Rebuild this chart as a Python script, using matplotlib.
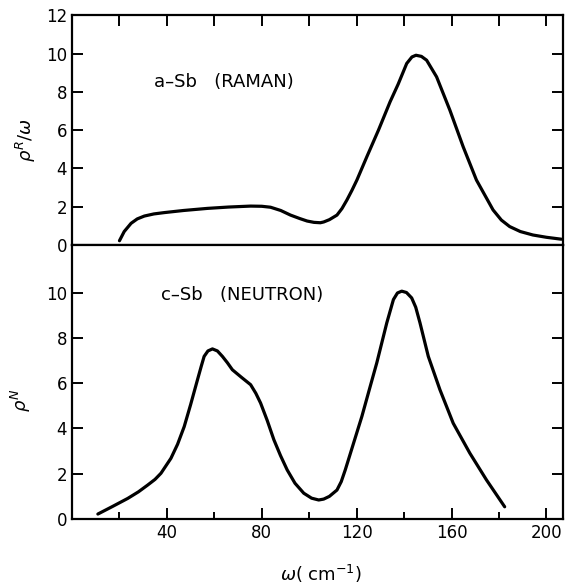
import matplotlib
matplotlib.use("Agg")
import matplotlib.pyplot as plt
from matplotlib.ticker import MultipleLocator

# a-Sb Raman spectrum (rho^R / omega)
raman_w = [20.0, 22.0, 24.9, 27.5, 30.5, 34.5, 38.9, 47.0, 57.1, 66.0, 75.3, 80.0,
           83.7, 88.0, 92.1, 96.0, 99.1, 102.0, 104.7, 106.1, 108.5, 111.7, 113.8,
           115.9, 118.0, 120.1, 124.3, 129.2, 134.1, 137.5, 141.1, 143.3, 145.0,
           147.3, 149.5, 153.7, 159.3, 164.9, 170.5, 177.5, 181.0, 184.5, 189.0,
           194.3, 200.0, 206.3]
raman_rho = [0.22, 0.7, 1.13, 1.36, 1.51, 1.62, 1.69, 1.8, 1.91, 1.98, 2.03, 2.02,
             1.97, 1.8, 1.56, 1.38, 1.25, 1.18, 1.16, 1.2, 1.32, 1.56, 1.9,
             2.35, 2.85, 3.39, 4.61, 6.0, 7.48, 8.4, 9.48, 9.82, 9.91,
             9.85, 9.65, 8.78, 7.04, 5.13, 3.39, 1.83, 1.3, 0.96, 0.7,
             0.52, 0.4, 0.3]

# c-Sb neutron density of states (rho^N)
neutron_w = [10.9, 17.0, 23.5, 28.0, 31.9, 35.0, 37.5, 41.7, 44.5, 47.3, 50.0, 52.9,
             54.5, 55.7, 57.3, 59.2, 61.3, 63.4, 65.5, 67.6, 71.5, 75.3, 77.5, 79.5,
             82.3, 85.1, 87.9, 90.7, 94.0, 97.7, 101.0, 104.0, 106.1, 108.5, 111.7,
             113.5, 115.2, 118.7, 122.2, 125.7, 128.5, 132.7, 135.5, 137.2, 139.0,
             141.0, 143.2, 144.9, 146.7, 150.2, 155.1, 160.7, 167.7, 174.7, 182.4]
neutron_rho = [0.22, 0.55, 0.91, 1.2, 1.5, 1.75, 2.02, 2.68, 3.3, 4.08, 5.05, 6.15,
               6.75, 7.18, 7.42, 7.51, 7.42, 7.18, 6.9, 6.59, 6.25, 5.93, 5.55, 5.12,
               4.35, 3.5, 2.8, 2.17, 1.58, 1.14, 0.92, 0.84, 0.88, 1.0, 1.28,
               1.65, 2.17, 3.35, 4.53, 5.85, 6.9, 8.66, 9.69, 9.98, 10.06,
               10.0, 9.76, 9.35, 8.66, 7.18, 5.71, 4.23, 2.91, 1.73, 0.54]

fig = plt.figure(figsize=(5.67, 5.86), dpi=100)
ax1 = fig.add_axes([0.127, 0.582, 0.866, 0.392])
ax2 = fig.add_axes([0.127, 0.1143, 0.866, 0.4677])

for ax in (ax1, ax2):
    for s in ax.spines.values():
        s.set_linewidth(1.6)
    ax.set_xlim(0, 207)
    ax.tick_params(direction='in', width=1.4, labelsize=12, right=True, top=True)
    ax.tick_params(which='major', length=8)
    ax.tick_params(which='minor', length=5, width=1.4, direction='in')

# upper panel
ax1.plot(raman_w, raman_rho, color='black', linewidth=2.3, solid_capstyle='round',
         solid_joinstyle='round')
ax1.set_ylim(0, 12)
ax1.yaxis.set_major_locator(MultipleLocator(2))
ax1.xaxis.set_major_locator(MultipleLocator(20))
ax1.tick_params(axis='x', bottom=False, labelbottom=False, top=True)
ax1.set_ylabel(r'$\rho^{R}/\omega$', fontsize=13)
ax1.yaxis.set_label_coords(-0.069, 0.457)
ax1.text(34.5, 8.5, 'a\u2013Sb   (RAMAN)', fontsize=13, va='center', ha='left')

# lower panel
ax2.plot(neutron_w, neutron_rho, color='black', linewidth=2.3, solid_capstyle='round',
         solid_joinstyle='round')
ax2.set_ylim(0, 12.1)
ax2.set_yticks([0, 2, 4, 6, 8, 10])
ax2.set_xticks([40, 80, 120, 160, 200])
ax2.set_xticks([20, 60, 100, 140, 180], minor=True)
ax2.tick_params(axis='x', which='both', top=False, bottom=True)
ax2.set_ylabel(r'$\rho^{N}$', fontsize=13)
ax2.yaxis.set_label_coords(-0.079, 0.434)
ax2.set_xlabel(r'$\omega$( cm$^{-1}$)', fontsize=13)
ax2.xaxis.set_label_coords(0.507, -0.16)
ax2.text(37.5, 9.9, 'c\u2013Sb   (NEUTRON)', fontsize=13, va='center', ha='left')

plt.savefig('out.png', dpi=100)
